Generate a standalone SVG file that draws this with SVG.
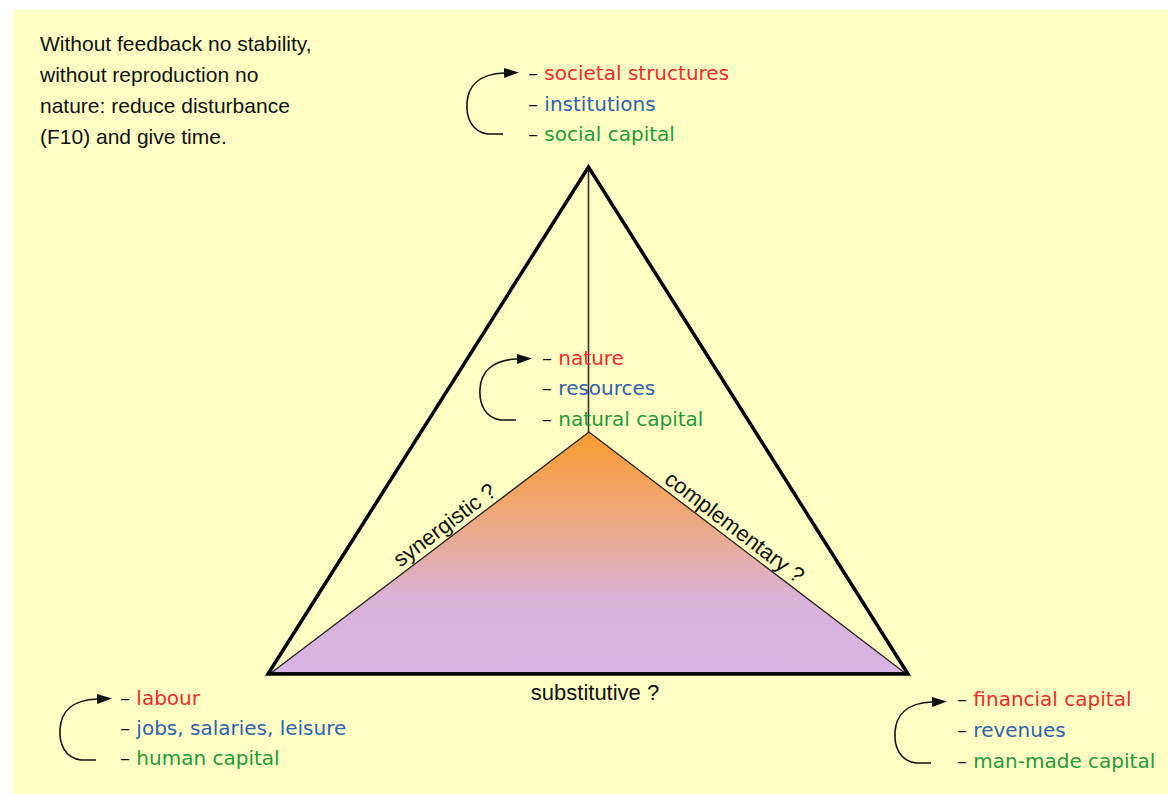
<svg xmlns="http://www.w3.org/2000/svg" width="1168" height="794" viewBox="0 0 1168 794">
<style>
.note{font-family:"Liberation Sans",Arial,sans-serif;font-size:21px;fill:#111}
.lbl{font-family:"DejaVu Sans","Liberation Sans",sans-serif;font-size:20px}
.d{fill:#111}
.r{fill:#F42A2A}
.b{fill:#2E62B2}
.g{fill:#1F9A3A}
.loop{fill:none;stroke:#111;stroke-width:1.6;marker-end:url(#ah)}
.edge{font-family:"Liberation Sans",Arial,sans-serif;font-size:22px;fill:#111;text-anchor:middle}
</style>
<defs>
<marker id="ah" viewBox="0 0 15 12" refX="0" refY="6" markerWidth="15" markerHeight="12" markerUnits="userSpaceOnUse" orient="auto">
<path d="M0,1 L15,6 L0,11 z" fill="#111"/>
</marker>
<linearGradient id="grad" x1="0" y1="432" x2="0" y2="673" gradientUnits="userSpaceOnUse">
<stop offset="0" stop-color="#F89C30"/>
<stop offset="0.35" stop-color="#EEA87C"/>
<stop offset="0.7" stop-color="#D9B2D8"/>
<stop offset="1" stop-color="#D6B4E4"/>
</linearGradient>
</defs>
<rect x="13" y="10" width="1155" height="784" fill="#FFFFC4"/>
<g id="note">
<text class="note" x="40" y="51">Without feedback no stability,</text>
<text class="note" x="40" y="82">without reproduction no</text>
<text class="note" x="40" y="113">nature: reduce disturbance</text>
<text class="note" x="40" y="144">(F10) and give time.</text>
</g>
<g id="connectors">
<polygon points="271,673 589,432 905,673" fill="url(#grad)" stroke="#222" stroke-width="1.3" stroke-linejoin="miter"/>
<line x1="588.5" y1="168" x2="588.5" y2="432" stroke="#333" stroke-width="1.6"/>
<polygon points="268,674 588.5,167 908,674" fill="none" stroke="#000" stroke-width="3.5" stroke-linejoin="miter"/>
<text class="edge" transform="translate(452,535) rotate(-37)" x="0" y="-5">synergistic ?</text>
<text class="edge" transform="translate(727,537) rotate(37.3)" x="0" y="-5">complementary ?</text>
<text class="edge" x="595" y="700">substitutive ?</text>
</g>
<g id="node-social">
<path class="loop" transform="translate(519,73)" d="M -16 61 L -31 61 C -47 59 -53 45 -52 30 C -51 13 -40 1 -15 0"/>
<text class="lbl" x="528" y="80"><tspan class="d">– </tspan><tspan class="r">societal structures</tspan></text>
<text class="lbl" x="528" y="111"><tspan class="d">– </tspan><tspan class="b">institutions</tspan></text>
<text class="lbl" x="528" y="141"><tspan class="d">– </tspan><tspan class="g">social capital</tspan></text>
</g>
<g id="node-nature">
<path class="loop" transform="translate(532,359)" d="M -16 61 L -31 61 C -47 59 -53 45 -52 30 C -51 13 -40 1 -15 0"/>
<text class="lbl" x="542" y="365"><tspan class="d">– </tspan><tspan class="r">nature</tspan></text>
<text class="lbl" x="542" y="395"><tspan class="d">– </tspan><tspan class="b">resources</tspan></text>
<text class="lbl" x="542" y="426"><tspan class="d">– </tspan><tspan class="g">natural capital</tspan></text>
</g>
<g id="node-labour">
<path class="loop" transform="translate(112,699)" d="M -16 61 L -31 61 C -47 59 -53 45 -52 30 C -51 13 -40 1 -15 0"/>
<text class="lbl" x="120" y="705"><tspan class="d">– </tspan><tspan class="r">labour</tspan></text>
<text class="lbl" x="120" y="735"><tspan class="d">– </tspan><tspan class="b">jobs, salaries, leisure</tspan></text>
<text class="lbl" x="120" y="765"><tspan class="d">– </tspan><tspan class="g">human capital</tspan></text>
</g>
<g id="node-financial">
<path class="loop" transform="translate(947,702)" d="M -16 61 L -31 61 C -47 59 -53 45 -52 30 C -51 13 -40 1 -15 0"/>
<text class="lbl" x="957" y="706"><tspan class="d">– </tspan><tspan class="r">financial capital</tspan></text>
<text class="lbl" x="957" y="737"><tspan class="d">– </tspan><tspan class="b">revenues</tspan></text>
<text class="lbl" x="957" y="768"><tspan class="d">– </tspan><tspan class="g">man-made capital</tspan></text>
</g>
</svg>
